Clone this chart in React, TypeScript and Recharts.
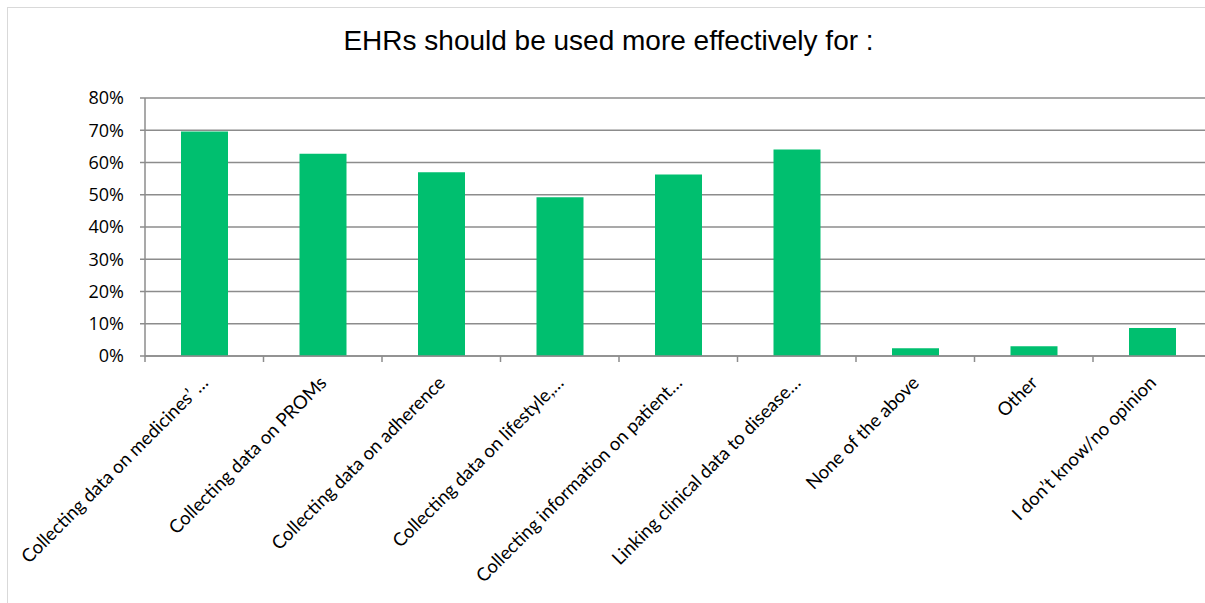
import React from "react";
import { BarChart, Bar, XAxis, YAxis, CartesianGrid } from "recharts";

const TITLE = "EHRs should be used more effectively for :";

const categories = [
  "Collecting data on medicines’ …",
  "Collecting data on PROMs",
  "Collecting data on adherence",
  "Collecting data on lifestyle,…",
  "Collecting information on patient…",
  "Linking clinical data to disease…",
  "None of the above",
  "Other",
  "I don’t know/no opinion",
];

const shares = [0.696, 0.627, 0.570, 0.492, 0.563, 0.640, 0.024, 0.030, 0.087];

const yTicks = [0, 0.1, 0.2, 0.3, 0.4, 0.5, 0.6, 0.7, 0.8];

const data = categories.map((name, i) => ({ name, value: shares[i] }));

const CHART_W = 1230;
const CHART_H = 603;
const PLOT_LEFT = 145;
const PLOT_RIGHT = 1211.5;
const PLOT_TOP = 98;
const PLOT_BOTTOM = 356;
const HALF_BAND = (PLOT_RIGHT - PLOT_LEFT) / categories.length / 2;

const GRID = "#8c8c8c";
const BAR = "#00BF6F";
const FONT = "'Open Sans', sans-serif";
const LABEL_FONT = "Lato, 'Open Sans', sans-serif";

const XTick = (props: any) => {
  const { x, y, payload } = props;
  return (
    <g>
      <line x1={x - HALF_BAND} x2={x - HALF_BAND} y1={y} y2={y + 6} stroke={GRID} strokeWidth={1.5} />
      <text
        transform={`translate(${x + 5},${y + 28}) rotate(-45)`}
        textAnchor="end"
        fontFamily={LABEL_FONT}
        fontSize={18.5}
        fill="#000"
      >
        {payload.value}
      </text>
    </g>
  );
};

export default function App() {
  return (
    <div
      style={{
        position: "absolute",
        left: 0,
        top: 0,
        width: 1205,
        height: 603,
        overflow: "hidden",
        background: "#fff",
      }}
    >
      <div
        style={{
          position: "absolute",
          left: 7,
          top: 7,
          width: 1300,
          height: 700,
          border: "1px solid #d9d9d9",
          boxSizing: "border-box",
        }}
      />
      <div
        style={{
          position: "absolute",
          left: 0,
          top: 21,
          width: 1217,
          textAlign: "center",
          fontFamily: "'Liberation Sans', Arial, sans-serif",
          fontSize: 28,
          color: "#000",
          lineHeight: "40px",
        }}
      >
        {TITLE}
      </div>
      <div style={{ position: "absolute", left: 0, top: 0 }}>
        <BarChart
          width={CHART_W}
          height={CHART_H}
          data={data}
          margin={{ top: PLOT_TOP, right: CHART_W - PLOT_RIGHT, left: 0, bottom: 0 }}
          barSize={47}
        >
          <CartesianGrid vertical={false} stroke={GRID} strokeWidth={1.5} />
          <YAxis
            width={PLOT_LEFT}
            domain={[0, 0.8]}
            ticks={yTicks}
            interval={0}
            tickFormatter={(v: number) => `${Math.round(v * 100)}%`}
            axisLine={{ stroke: GRID, strokeWidth: 1.5 }}
            tickLine={{ stroke: GRID, strokeWidth: 1.5 }}
            tickSize={5}
            tickMargin={16}
            tick={{ fontFamily: FONT, fontSize: 18, fill: "#000" }}
          />
          <XAxis
            dataKey="name"
            height={CHART_H - PLOT_BOTTOM}
            interval={0}
            axisLine={{ stroke: GRID, strokeWidth: 1.5 }}
            tickLine={false}
            tickSize={0}
            tickMargin={0}
            tick={<XTick />}
          />
          <Bar dataKey="value" fill={BAR} isAnimationActive={false} />
        </BarChart>
      </div>
    </div>
  );
}
